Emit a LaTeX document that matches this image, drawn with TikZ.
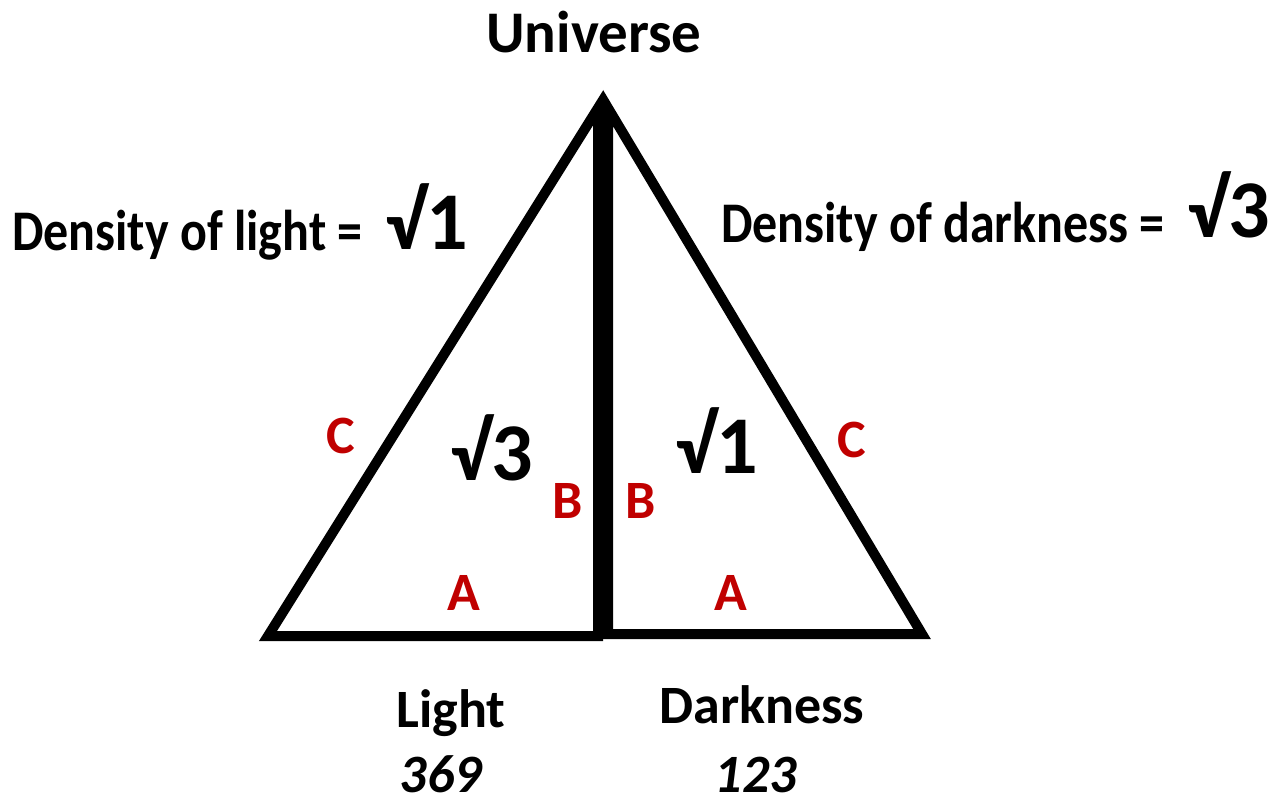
\documentclass[tikz,border=0pt]{standalone}
\usepackage{fontspec}
\setmainfont{Carlito}
\definecolor{dred}{RGB}{192,0,0}
\begin{document}
\begin{tikzpicture}[x=1pt,y=-1pt,
  tri/.style={draw=black,line width=10pt,line join=miter},
  lbl/.style={anchor=base,inner sep=0pt,font=\fontsize{54}{58}\selectfont\bfseries},
  dens/.style={anchor=base west,inner sep=0pt,font=\fontsize{50}{54}\selectfont\bfseries},
  red/.style={anchor=base,inner sep=0pt,text=dred,font=\fontsize{54}{58}\selectfont\bfseries},
  root/.style={anchor=base,inner sep=0pt,font=\fontsize{82}{86}\selectfont\bfseries},
  num/.style={anchor=base,inner sep=0pt,font=\fontsize{54}{58}\selectfont\bfseries\itshape}]
\useasboundingbox (0,0) rectangle (1287,805);
\coordinate (l1) at (268,636);
\coordinate (l2) at (598,108);
\coordinate (l3) at (598,636);
\coordinate (r1) at (608,108);
\coordinate (r2) at (608,634);
\coordinate (r3) at (922,634);
\draw[tri] (l1) -- (l2) -- (l3) -- cycle;
\draw[tri] (r1) -- (r2) -- (r3) -- cycle;
\node[lbl,font=\fontsize{59}{62}\selectfont\bfseries] (univ) at (594,53) {Universe};
\node[dens] (dl) at (12,250) {\scalebox{1}[1.15]{Density of light =}};
\node[root] (rl) at (427,249) {√1};
\node[dens] (dd) at (721,242) {\scalebox{1}[1.15]{Density of darkness =}};
\node[root] (rd) at (1229,237) {√3};
\node[red] (cl) at (341,453) {C};
\node[root] (sl) at (492,480) {√3};
\node[red] (bl) at (568,518) {B};
\node[red] (br) at (641,518) {B};
\node[root] (sr) at (717,473) {√1};
\node[red] (cr) at (852,457) {C};
\node[red] (al) at (464,610) {A};
\node[red] (ar) at (731,610) {A};
\node[lbl] (light) at (451,727) {Light};
\node[lbl] (dark) at (762,723) {Darkness};
\node[num] (n1) at (441,792) {369};
\node[num] (n2) at (756,792) {123};
\end{tikzpicture}
\end{document}
